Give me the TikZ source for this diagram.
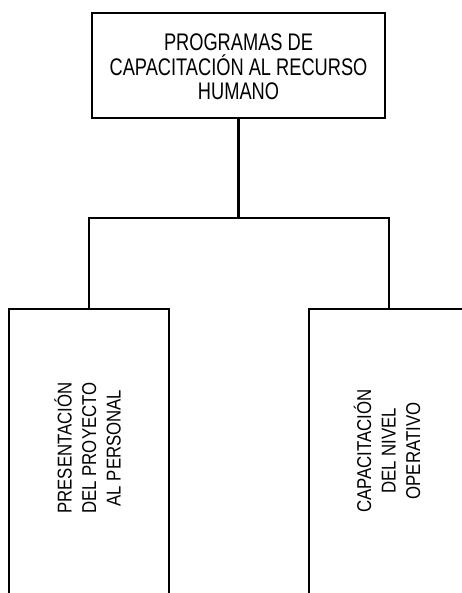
\documentclass[tikz,border=0pt]{standalone}
\usepackage{fontspec}
\setmainfont{Liberation Sans}
\newfontfamily\titlefont[FakeStretch=0.76]{Liberation Sans}
\newfontfamily\sidefont[FakeStretch=0.84]{Liberation Sans}
\begin{document}
\begin{tikzpicture}[x=1pt,y=-1pt,
  box/.style={draw, line width=2.3pt, inner sep=0pt},
  link/.style={line width=2.3pt},
  headtext/.style={align=center, font=\titlefont\fontsize{24}{24.5}\selectfont},
  sidetext/.style={align=center, rotate=90, inner sep=0pt,
    font=\sidefont\fontsize{20}{24.5}\selectfont}]
  \clip (0,0) rectangle (462,593);
  % head of the chart
  \node[box, minimum width=293pt, minimum height=105pt] (top) at (238.5,65.5) {};
  \node[headtext] (toptext) at (238.5,67) {PROGRAMAS DE\\CAPACITACIÓN AL RECURSO\\HUMANO};
  % two branches, open towards the bottom of the page
  \node[box, anchor=north west, minimum width=160pt, minimum height=330pt] (lbox) at (8,308) {};
  \node[box, anchor=north west, minimum width=160pt, minimum height=330pt] (rbox) at (308,308) {};
  \node[sidetext] (ltext) at (87.5,448) {PRESENTACIÓN\\DEL PROYECTO\\AL PERSONAL};
  \node[sidetext] (rtext) at (387,451) {CAPACITACIÓN\\DEL NIVEL\\OPERATIVO};
  % connectors
  \coordinate (bus) at (0,218);
  \draw[link] (top.south) -- (top.south |- bus);
  \draw[link] (lbox.north) -- (lbox.north |- bus) -- (rbox.north |- bus) -- (rbox.north);
\end{tikzpicture}
\end{document}
